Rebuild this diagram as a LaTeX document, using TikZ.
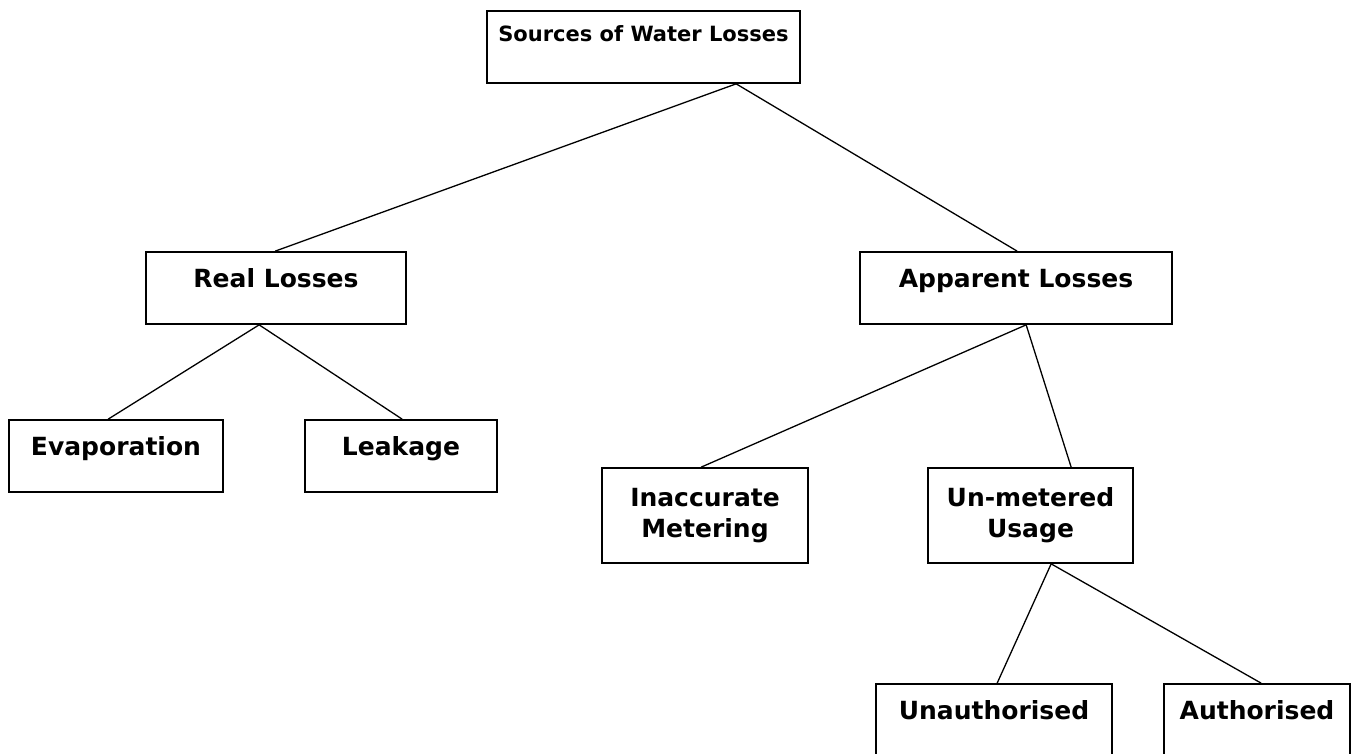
\documentclass[tikz,border=0pt]{standalone}
\usepackage{fontspec}
\setmainfont{DejaVu Sans}
\begin{document}
\begin{tikzpicture}[x=1pt,y=-1pt,
  box/.style={draw, line width=1.7pt, inner sep=0pt, font=\fontsize{25}{31}\selectfont\bfseries},
  one/.style={text height=35pt, text depth=37pt},
  top/.style={font=\fontsize{21}{25}\selectfont\bfseries, text height=31pt, text depth=41pt},
  two/.style={align=center, minimum height=95pt},
  link/.style={line width=1.3pt}]
\useasboundingbox (0,0) rectangle (1354,754);
\clip (0,0) rectangle (1354,754);
\node[box, top, minimum width=313pt] (src) at (643.5,47) {Sources of Water Losses};
\node[box, one, minimum width=260pt] (real) at (276,288) {Real Losses};
\node[box, one, minimum width=312pt] (app) at (1016,288) {Apparent Losses};
\node[box, one, minimum width=214pt] (evap) at (116,456) {Evaporation};
\node[box, one, minimum width=192pt] (leak) at (401,456) {Leakage};
\node[box, two, minimum width=206pt] (inacc) at (705,515.5) {Inaccurate\\Metering};
\node[box, two, minimum width=205pt] (unmet) at (1030.5,515.5) {Un-metered\\Usage};
\node[box, one, minimum width=236pt] (unauth) at (994,720) {Unauthorised};
\node[box, one, minimum width=186pt] (auth) at (1257,720) {Authorised};
\draw[link] ([xshift=250pt]src.south west) -- ([xshift=130pt]real.north west);
\draw[link] ([xshift=250pt]src.south west) -- ([xshift=158pt]app.north west);
\draw[link] ([xshift=114pt]real.south west) -- ([xshift=100pt]evap.north west);
\draw[link] ([xshift=114pt]real.south west) -- ([xshift=98pt]leak.north west);
\draw[link] ([xshift=167pt]app.south west) -- ([xshift=100pt]inacc.north west);
\draw[link] ([xshift=167pt]app.south west) -- ([xshift=144pt]unmet.north west);
\draw[link] ([xshift=124pt]unmet.south west) -- ([xshift=122pt]unauth.north west);
\draw[link] ([xshift=124pt]unmet.south west) -- ([xshift=98pt]auth.north west);
\end{tikzpicture}
\end{document}
